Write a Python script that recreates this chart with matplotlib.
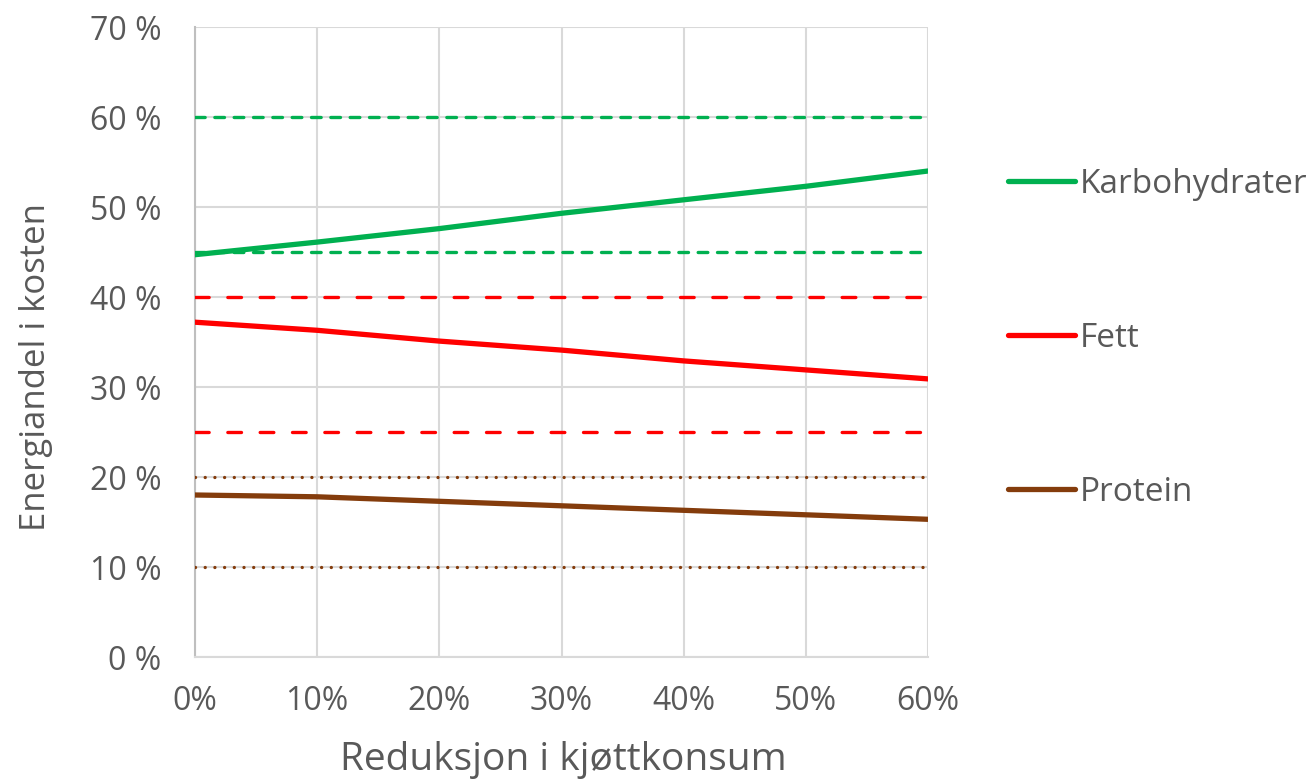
import matplotlib
matplotlib.use("Agg")
import matplotlib.pyplot as plt
from matplotlib.ticker import FixedLocator, FuncFormatter

# Reduction in meat consumption (%) and energy share (%) of each macronutrient
reduction = [0, 10, 20, 30, 40, 50, 60]
karbohydrater = [44.7, 46.1, 47.6, 49.3, 50.8, 52.3, 54.0]
fett = [37.2, 36.3, 35.1, 34.1, 32.9, 31.9, 30.9]
protein = [18.0, 17.8, 17.3, 16.8, 16.3, 15.8, 15.3]

# Recommended intervals (lower, upper) for each macronutrient
karbo_range = [45, 60]
fett_range = [25, 40]
protein_range = [10, 20]

series_names = ["Karbohydrater", "Fett", "Protein"]
colors = ["#00B050", "#FF0000", "#843C0C"]

y_ticks = [0, 10, 20, 30, 40, 50, 60, 70]
x_ticks = [0, 10, 20, 30, 40, 50, 60]

TEXT = "#595959"
GRID = "#D9D9D9"

plt.rcParams["font.family"] = ["Open Sans", "DejaVu Sans"]

fig = plt.figure(figsize=(13.16, 7.8), dpi=100)
ax = fig.add_axes([195 / 1316, 1 - 657 / 780, (928 - 195) / 1316, (657 - 27) / 780])

# Recommended-range reference lines
range_styles = [
    (karbo_range, colors[0], (2.9, 2.9)),
    (fett_range, colors[1], (4.1, 5.6)),
    (protein_range, colors[2], (0.01, 2.9)),
]
for bounds, col, dash in range_styles:
    for b in bounds:
        ln, = ax.plot([reduction[0], reduction[-1]], [b, b], color=col,
                      lw=2.4, dash_capstyle="round", zorder=3)
        ln.set_dashes(dash)

# Energy share series
handles = []
for vals, name, col in zip([karbohydrater, fett, protein], series_names, colors):
    h, = ax.plot(reduction, vals, color=col, lw=3.8, solid_capstyle="round",
                 solid_joinstyle="round", label=name, zorder=4)
    handles.append(h)

ax.set_xlim(0, 60)
ax.set_ylim(0, 70)
ax.xaxis.set_major_locator(FixedLocator(x_ticks))
ax.yaxis.set_major_locator(FixedLocator(y_ticks))
ax.xaxis.set_major_formatter(FuncFormatter(lambda v, p: f"{v:.0f}%"))
ax.yaxis.set_major_formatter(FuncFormatter(lambda v, p: f"{v:.0f} %"))

ax.grid(True, color=GRID, lw=1.5, zorder=0)
ax.set_axisbelow(True)
for side in ["top", "right"]:
    ax.spines[side].set_visible(False)
ax.spines["left"].set_color("#BFBFBF")
ax.spines["left"].set_linewidth(1.5)
ax.spines["bottom"].set_color("#D9D9D9")
ax.spines["bottom"].set_linewidth(1.5)

ax.tick_params(axis="both", length=0, colors=TEXT)
ax.tick_params(axis="y", pad=24, labelsize=23)
ax.tick_params(axis="x", pad=20, labelsize=23)

ax.set_xlabel("Reduksjon i kjøttkonsum", fontsize=28, color=TEXT)
ax.set_ylabel("Energiandel i kosten", fontsize=25, color=TEXT)
ax.xaxis.label.set_va("center")
ax.yaxis.label.set_va("center")
ax.xaxis.set_label_coords(0.503, (657 - 760) / 630)
ax.yaxis.set_label_coords((36 - 195) / 733, (657 - 367) / 630)

leg = fig.legend(handles=handles, loc="upper left",
                 bbox_to_anchor=(1008 / 1316, 1 - 168 / 780),
                 frameon=False, fontsize=24, labelcolor=TEXT,
                 handlelength=2.0, handletextpad=0.15, labelspacing=3.63,
                 borderpad=0, borderaxespad=0)

fig.savefig("out.png", dpi=100)
